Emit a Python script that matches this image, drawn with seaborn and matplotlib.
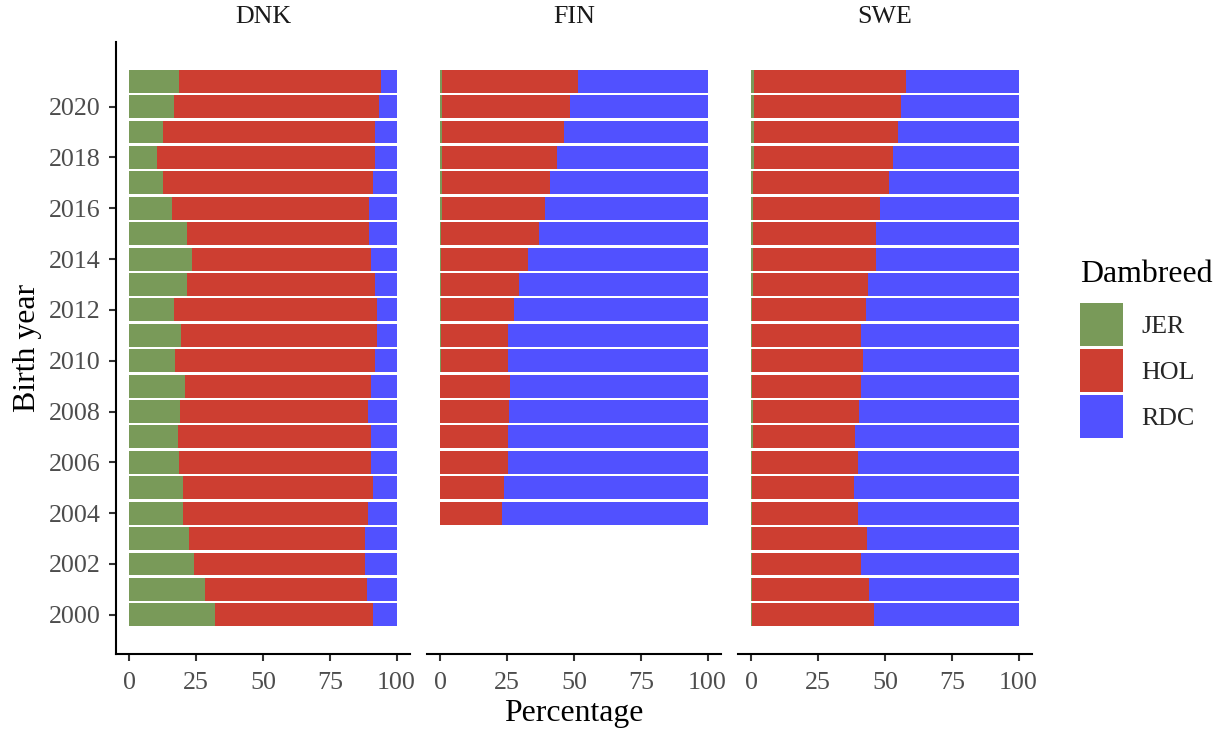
import matplotlib
matplotlib.use("Agg")
import matplotlib.pyplot as plt
import pandas as pd
import seaborn as sns
from matplotlib.patches import Patch

sns.set_style("white")
plt.rcParams["font.family"] = ["Liberation Serif", "DejaVu Serif"]

# ---------------- data (percent of calves by dam breed) ----------------
breeds = ["JER", "HOL", "RDC"]
countries = ["DNK", "FIN", "SWE"]

years_dnk = [2000, 2001, 2002, 2003, 2004, 2005, 2006, 2007, 2008, 2009, 2010,
             2011, 2012, 2013, 2014, 2015, 2016, 2017, 2018, 2019, 2020, 2021]
dnk_jer = [32.1, 28.4, 24.3, 22.4, 20.1, 20.1, 18.7, 18.3, 19.0, 20.9, 17.2,
           19.4, 16.8, 21.6, 23.5, 21.6, 16.0, 12.7, 10.4, 12.7, 16.8, 18.7]
dnk_hol = [59.2, 60.4, 64.0, 65.9, 69.0, 70.9, 71.8, 72.2, 70.1, 69.6, 74.8,
           73.4, 76.0, 70.2, 66.8, 68.2, 73.6, 78.3, 81.6, 79.3, 76.5, 75.3]
dnk_rdc = [8.7, 11.2, 11.7, 11.7, 10.9, 9.0, 9.5, 9.5, 10.9, 9.5, 8.0,
           7.2, 7.2, 8.2, 9.7, 10.2, 10.4, 9.0, 8.0, 8.0, 6.7, 6.0]

years_fin = [2004, 2005, 2006, 2007, 2008, 2009, 2010, 2011, 2012,
             2013, 2014, 2015, 2016, 2017, 2018, 2019, 2020, 2021]
fin_jer = [0.0, 0.0, 0.0, 0.0, 0.0, 0.0, 0.4, 0.4, 0.4,
           0.4, 0.4, 0.4, 0.7, 0.7, 0.7, 0.7, 0.7, 0.7]
fin_hol = [23.1, 23.8, 25.3, 25.3, 25.8, 26.1, 24.9, 24.9, 27.1,
           29.1, 32.4, 36.6, 38.5, 40.2, 43.0, 45.5, 47.7, 50.7]
fin_rdc = [76.9, 76.2, 74.7, 74.7, 74.2, 73.9, 74.7, 74.7, 72.5,
           70.5, 67.2, 63.0, 60.8, 59.1, 56.3, 53.8, 51.6, 48.6]

years_swe = [2000, 2001, 2002, 2003, 2004, 2005, 2006, 2007, 2008, 2009, 2010,
             2011, 2012, 2013, 2014, 2015, 2016, 2017, 2018, 2019, 2020, 2021]
swe_jer = [0.4, 0.4, 0.4, 0.4, 0.4, 0.4, 0.4, 0.75, 0.75, 0.4, 0.4,
           0.4, 0.4, 0.75, 0.75, 0.75, 0.75, 0.75, 1.1, 1.1, 1.1, 1.1]
swe_hol = [45.5, 43.8, 40.8, 43.0, 39.5, 38.0, 39.5, 38.2, 39.7, 40.8, 41.5,
           40.8, 42.5, 43.0, 45.9, 45.7, 47.4, 50.9, 52.0, 53.8, 55.0, 56.7]
swe_rdc = [54.1, 55.8, 58.8, 56.6, 60.1, 61.6, 60.1, 61.1, 59.6, 58.8, 58.1,
           58.8, 57.1, 56.3, 53.4, 53.6, 51.9, 48.4, 46.9, 45.1, 43.9, 42.2]

x_ticks = [0, 25, 50, 75, 100]
y_ticks = [2000, 2002, 2004, 2006, 2008, 2010, 2012, 2014, 2016, 2018, 2020]

colors = {"JER": "#799A59", "HOL": "#CD3E31", "RDC": "#5151FF"}

# ---------------- tidy table ----------------
rows = []
for c, yrs, series in [("DNK", years_dnk, (dnk_jer, dnk_hol, dnk_rdc)),
                       ("FIN", years_fin, (fin_jer, fin_hol, fin_rdc)),
                       ("SWE", years_swe, (swe_jer, swe_hol, swe_rdc))]:
    for b, vals in zip(breeds, series):
        for y, v in zip(yrs, vals):
            rows.append({"country": c, "year": y, "breed": b, "pct": v})
df = pd.DataFrame(rows)

# ---------------- figure ----------------
W, H = 1219, 729
fig = plt.figure(figsize=(W / 100, H / 100), dpi=100)
panel_px = [(116, 410), (427, 721), (738, 1032)]
top_px, bot_px = 42, 654
small = 18.7
big = 22.9

for i, (c, (x0, x1)) in enumerate(zip(countries, panel_px)):
    ax = fig.add_axes([x0 / W, (H - bot_px) / H, (x1 - x0) / W, (bot_px - top_px) / H])
    wide = df[df.country == c].pivot(index="year", columns="breed", values="pct")[breeds]
    cum = wide.cumsum(axis=1)
    for b in reversed(breeds):
        sns.barplot(x=cum[b].values, y=cum.index.values, orient="y", native_scale=True,
                    width=0.9, color=colors[b], saturation=1, linewidth=0,
                    errorbar=None, ax=ax)
    ax.set_xlim(-5, 105)
    ax.set_ylim(1998.455, 2022.545)
    ax.set_xticks(x_ticks)
    ax.set_xticklabels([str(t) for t in x_ticks])
    ax.set_xlabel("")
    ax.set_ylabel("")
    for s in ["top", "right"]:
        ax.spines[s].set_visible(False)
    ax.spines["bottom"].set_linewidth(1.5)
    ax.spines["bottom"].set_color("black")
    ax.tick_params(axis="x", length=5, width=1.5, color="#333333",
                   labelcolor="#4D4D4D", labelsize=small, pad=8, bottom=True)
    if i == 0:
        ax.spines["left"].set_linewidth(1.5)
        ax.spines["left"].set_color("black")
        ax.set_yticks(y_ticks)
        ax.set_yticklabels([str(t) for t in y_ticks])
        ax.tick_params(axis="y", length=5, width=1.5, color="#333333",
                       labelcolor="#4D4D4D", labelsize=small, pad=6, left=True)
    else:
        ax.spines["left"].set_visible(False)
        ax.set_yticks([])
    fig.text((x0 + x1) / 2 / W, 1 - 17 / H, c, ha="center", va="center",
             fontsize=small, color="#1A1A1A")

fig.text(28 / W, 1 - 348 / H, "Birth year", rotation=90, ha="center", va="center",
         fontsize=big, color="black")
fig.text(574 / W, 1 - 714 / H, "Percentage", ha="center", va="center",
         fontsize=big, color="black")

# legend: title drawn as text, keys through the legend machinery
fig.text(1080 / W, 1 - 282 / H, "Dambreed", ha="left", va="baseline",
         fontsize=big, color="black")
handles = [Patch(facecolor=colors[b], edgecolor="none", label=b) for b in breeds]
fig.legend(handles=handles, loc="upper left",
           bbox_to_anchor=(1080 / W, 1 - 303 / H), frameon=False,
           fontsize=small, handlelength=1.65, handleheight=2.17,
           labelspacing=0.115, handletextpad=0.7, borderpad=0, borderaxespad=0)

fig.savefig("out.png", dpi=100)
